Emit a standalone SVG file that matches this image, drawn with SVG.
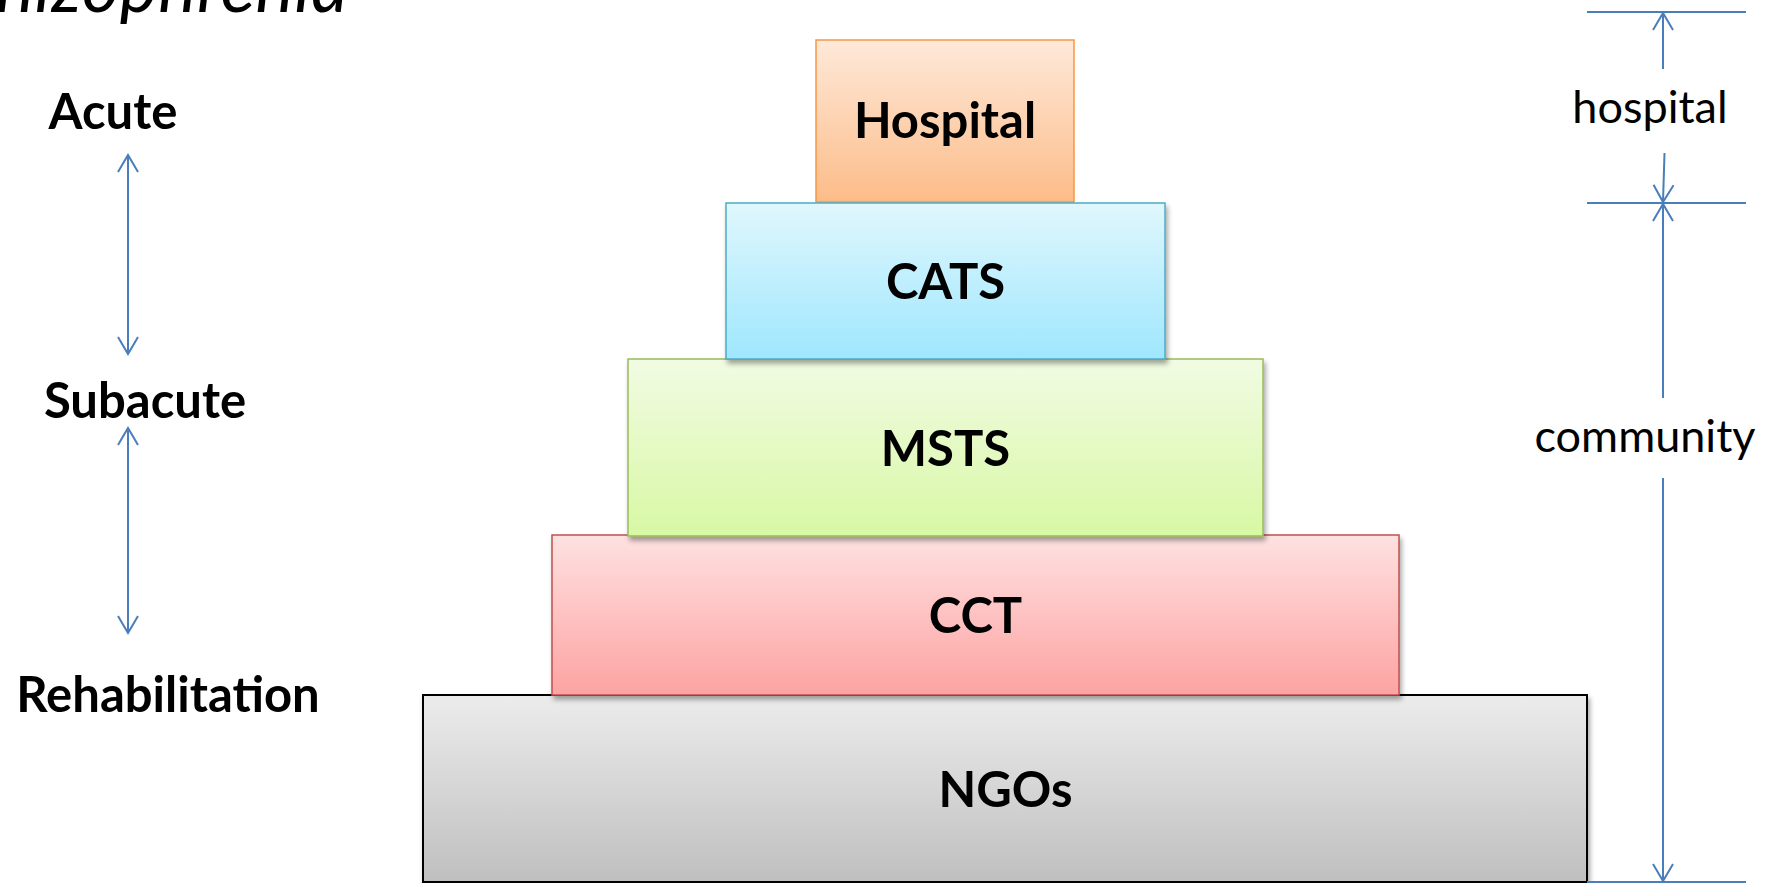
<svg xmlns="http://www.w3.org/2000/svg" width="1773" height="883" viewBox="0 0 1773 883">
<style>
.lbl{font-family:Lato,"Liberation Sans",sans-serif;font-weight:bold;font-size:49px;fill:#000;text-anchor:middle}
.side{font-family:Lato,"Liberation Sans",sans-serif;font-size:45px;fill:#000;text-anchor:middle}
.title{font-family:Lato,"Liberation Sans",sans-serif;font-style:italic;font-size:72px;fill:#000}
.ar{stroke:#4a7ebb;stroke-width:2;fill:none}
.box{filter:url(#sh)}
</style>
<defs>
<filter id="sh" x="-5%" y="-10%" width="110%" height="125%">
<feDropShadow dx="2" dy="4" stdDeviation="2.5" flood-color="#000" flood-opacity="0.35"/>
</filter>
<linearGradient id="gH" x1="0" y1="0" x2="0" y2="1"><stop offset="0" stop-color="#fee9da"/><stop offset="1" stop-color="#fcbc88"/></linearGradient>
<linearGradient id="gC" x1="0" y1="0" x2="0" y2="1"><stop offset="0" stop-color="#e0f7fd"/><stop offset="1" stop-color="#9fe7fd"/></linearGradient>
<linearGradient id="gM" x1="0" y1="0" x2="0" y2="1"><stop offset="0" stop-color="#f1fbe3"/><stop offset="1" stop-color="#d8f8a4"/></linearGradient>
<linearGradient id="gR" x1="0" y1="0" x2="0" y2="1"><stop offset="0" stop-color="#fee1e1"/><stop offset="1" stop-color="#fda3a2"/></linearGradient>
<linearGradient id="gN" x1="0" y1="0" x2="0" y2="1"><stop offset="0" stop-color="#ececec"/><stop offset="1" stop-color="#bfbfbf"/></linearGradient>
<marker id="ah" viewBox="-20 -12 24 24" refX="0" refY="0" markerWidth="24" markerHeight="24" markerUnits="userSpaceOnUse" orient="auto-start-reverse">
<path d="M-17,-10 L0,0 L-17,10" fill="none" stroke="#4a7ebb" stroke-width="2"/>
</marker>
</defs>

<text class="title" x="-4" y="12" textLength="352">hizophrenia</text>

<g id="left-labels">
<text class="lbl" x="113" y="129">Acute</text>
<text class="lbl" x="145" y="418">Subacute</text>
<text class="lbl" x="168" y="712">Rehabilitation</text>
</g>

<g id="node-ngos">
<rect class="box" x="423" y="695" width="1164" height="187" fill="url(#gN)" stroke="#000" stroke-width="2"/>
<text class="lbl" x="1005.5" y="807">NGOs</text>
</g>
<g id="node-cct">
<rect class="box" x="552" y="535" width="847" height="160" fill="url(#gR)" stroke="#c0504d" stroke-width="1.5"/>
<text class="lbl" x="975.5" y="633">CCT</text>
</g>
<g id="node-msts">
<rect class="box" x="628" y="359" width="635" height="177" fill="url(#gM)" stroke="#9bbb59" stroke-width="1.5"/>
<text class="lbl" x="945.5" y="466">MSTS</text>
</g>
<g id="node-hospital">
<rect x="816" y="40" width="258" height="162" fill="url(#gH)" stroke="#f79646" stroke-width="1.5"/>
<text class="lbl" x="945" y="138">Hospital</text>
</g>
<g id="node-cats">
<rect class="box" x="726" y="203" width="439" height="156" fill="url(#gC)" stroke="#4bacc6" stroke-width="1.5"/>
<text class="lbl" x="945.5" y="299">CATS</text>
</g>

<g id="connectors">
<line class="ar" x1="128" y1="155" x2="128" y2="354" marker-start="url(#ah)" marker-end="url(#ah)"/>
<line class="ar" x1="128" y1="428" x2="128" y2="633" marker-start="url(#ah)" marker-end="url(#ah)"/>
<line class="ar" x1="1587" y1="12" x2="1746" y2="12"/>
<line class="ar" x1="1587" y1="203" x2="1746" y2="203"/>
<line class="ar" x1="1587" y1="882" x2="1746" y2="882"/>
<line class="ar" x1="1663" y1="69" x2="1663" y2="13" marker-end="url(#ah)"/>
<line class="ar" x1="1664.5" y1="153" x2="1663" y2="202" marker-end="url(#ah)"/>
<line class="ar" x1="1663" y1="398" x2="1663" y2="204" marker-end="url(#ah)"/>
<line class="ar" x1="1663" y1="478" x2="1663" y2="881" marker-end="url(#ah)"/>
</g>

<g id="right-labels">
<text class="side" x="1650" y="123">hospital</text>
<text class="side" x="1645" y="452">community</text>
</g>
</svg>
